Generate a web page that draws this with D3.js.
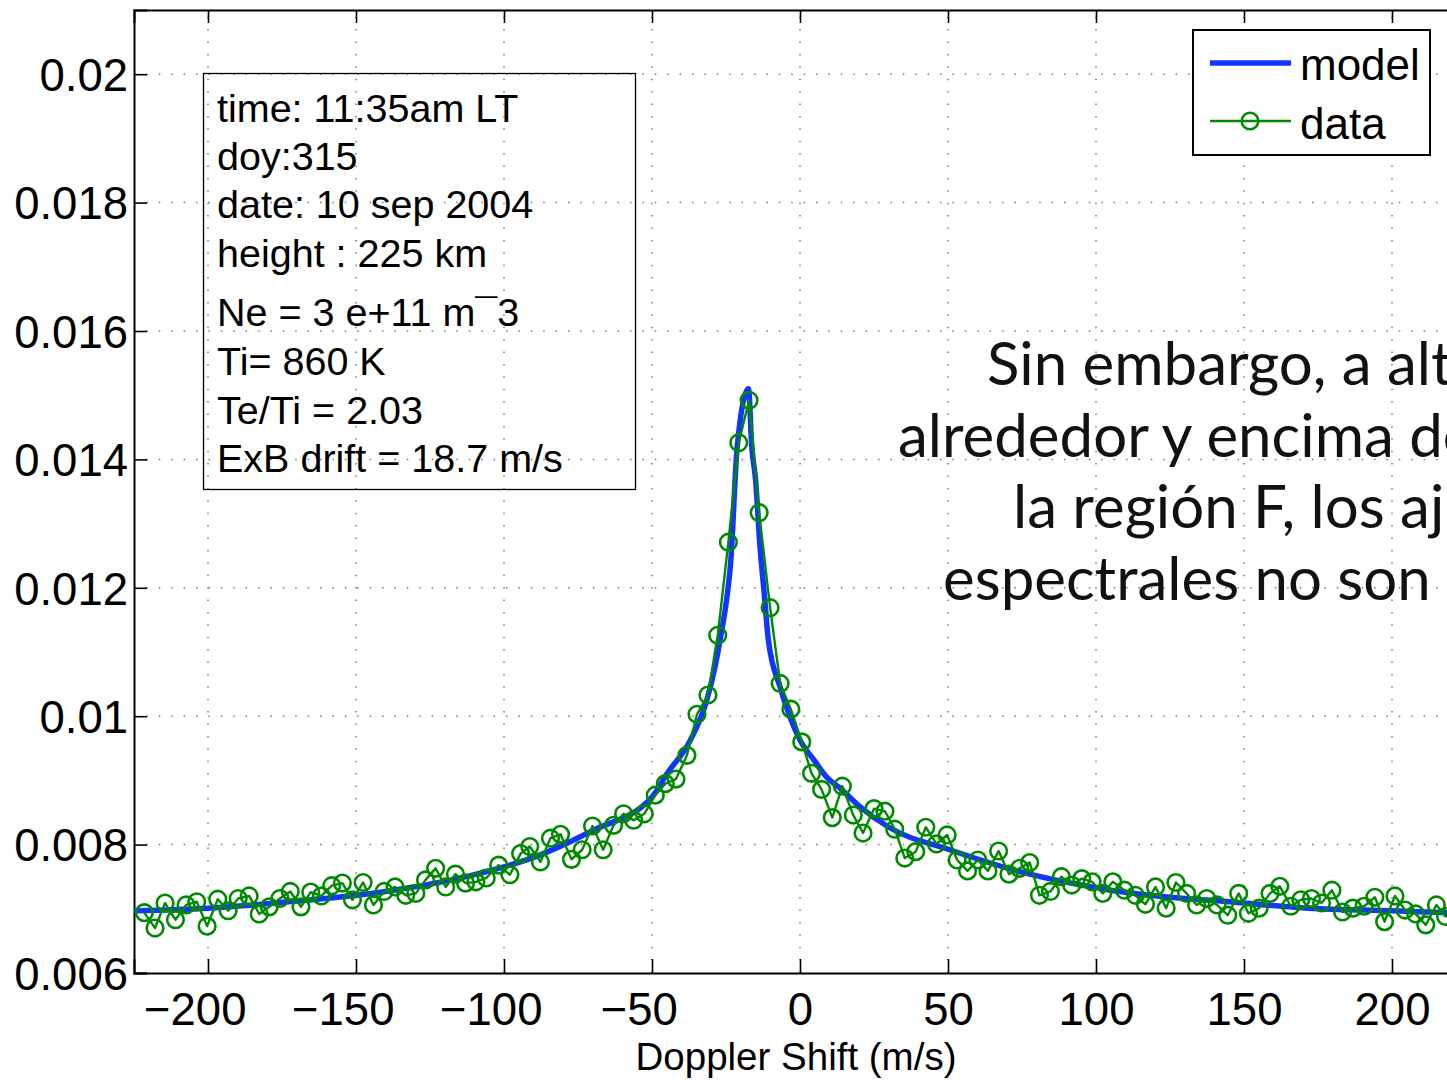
<!DOCTYPE html>
<html>
<head>
<meta charset="utf-8">
<script src="https://cdn.jsdelivr.net/npm/d3@7"></script>
<style>
  html, body { margin: 0; padding: 0; background: #fff; overflow: hidden; }
  svg { display: block; }
</style>
</head>
<body>
<svg id="chart" width="1447" height="1080"></svg>
<script>
// ---------- data ----------
const dataShift = [-221.5,-217.9,-214.5,-211.0,-207.4,-203.8,-200.3,-196.7,-193.2,-189.8,
  -186.1,-182.7,-179.3,-175.7,-172.2,-168.6,-165.3,-161.7,-158.2,-154.6,
  -151.2,-147.6,-144.1,-140.5,-136.8,-133.2,-129.8,-126.5,-123.1,-119.7,
  -116.4,-113.0,-109.5,-106.0,-101.8,-98.0,-94.4,-91.3,-87.7,-84.3,
  -80.9,-77.2,-73.6,-70.1,-66.5,-63.0,-59.6,-56.2,-52.6,-48.9,
  -45.5,-41.9,-38.2,-34.8,-31.1,-27.8,-24.2,-20.7,-17.2,-13.8,
  -10.1,-6.7,-3.1,0.6,3.9,7.3,10.9,14.3,18.0,21.3,
  25.0,28.7,32.0,35.4,39.1,42.5,46.1,49.7,53.1,56.6,
  60.1,63.5,67.1,70.6,74.2,77.6,80.9,84.6,88.3,91.8,
  95.2,98.7,102.3,105.7,109.6,113.3,116.7,120.1,123.7,127.0,
  130.6,134.0,137.4,140.9,144.5,148.2,151.5,155.1,158.8,162.1,
  165.8,169.2,172.8,176.2,179.7,183.3,186.8,190.6,194.2,197.5,
  201.0,204.4,208.0,211.4,215.0,218.1,221.6];
const dataValues = [0.00694,0.00670,0.00709,0.00683,0.00706,0.00711,0.00673,0.00715,0.00697,0.00716,
  0.00720,0.00692,0.00703,0.00716,0.00727,0.00703,0.00726,0.00720,0.00736,0.00740,
  0.00714,0.00741,0.00706,0.00727,0.00734,0.00721,0.00724,0.00745,0.00763,0.00734,
  0.00754,0.00740,0.00742,0.00748,0.00768,0.00753,0.00786,0.00797,0.00773,0.00810,
  0.00816,0.00777,0.00792,0.00829,0.00792,0.00830,0.00848,0.00838,0.00848,0.00877,
  0.00895,0.00902,0.00939,0.01003,0.01033,0.01126,0.01271,0.01426,0.01492,0.01317,
  0.01169,0.01051,0.01011,0.00960,0.00911,0.00886,0.00842,0.00891,0.00846,0.00818,
  0.00856,0.00852,0.00824,0.00779,0.00789,0.00827,0.00801,0.00815,0.00776,0.00759,
  0.00776,0.00759,0.00790,0.00754,0.00763,0.00772,0.00721,0.00727,0.00750,0.00737,
  0.00747,0.00742,0.00724,0.00742,0.00729,0.00721,0.00707,0.00734,0.00701,0.00741,
  0.00724,0.00706,0.00716,0.00706,0.00690,0.00724,0.00693,0.00701,0.00724,0.00735,
  0.00704,0.00714,0.00716,0.00709,0.00729,0.00695,0.00701,0.00704,0.00718,0.00680,
  0.00720,0.00698,0.00692,0.00675,0.00706,0.00688,0.00695];

const modelShift = [-225,-200,-170,-140,-111,-90,-70,-50,-45,-37,-31.5,-28.7,-27,-24.5,-23.5,-21.2,-17.4,
  -16.3,-15,-13.5,-12.1,-10.7,-6.7,0,5,9,13.5,20,30,50.6,75,105,150,172,200,225];
const modelValues = [0.00697,0.00701,0.00712,0.00727,0.00752,0.00780,0.00822,0.00874,0.00910,0.00963,0.01025,0.01077,0.01119,0.01192,0.01235,0.01420,0.01510,
  0.01420,0.01368,0.01263,0.01192,0.01119,0.01045,0.00963,0.00930,0.00905,0.00888,0.00860,0.00827,0.00792,0.00757,0.00729,0.00709,0.00701,0.00697,0.00693];

const xTicks = [-200,-150,-100,-50,0,50,100,150,200];
const yTicks = [0.006,0.008,0.010,0.012,0.014,0.016,0.018,0.020];
const yTickLabels = ["0.006","0.008","0.01","0.012","0.014","0.016","0.018","0.02"];
const xLabel = "Doppler Shift (m/s)";
const seriesNames = ["model","data"];
const infoLines = ["time: 11:35am LT","doy:315","date: 10 sep 2004","height : 225 km",
  "Ne = 3 e+11 m\u00AF3","Ti= 860 K","Te/Ti = 2.03","ExB drift = 18.7 m/s"];
const noteLines = ["Sin embargo, a alturas","alrededor y encima del pico de","la región F, los ajustes","espectrales no son buenos"];

// ---------- layout ----------
const L = 134, R = 1466, T = 10, B = 973;
const svg = d3.select("#chart");
const x = d3.scaleLinear().domain([-225,225]).range([L,R]);
const y = d3.scaleLinear().domain([0.006,0.021]).range([B,T]);
const axisFont = "'Liberation Sans', Arial, Helvetica, sans-serif";
const blue = "#1236ff", green = "#008a00";
const tickFontPx = 45.5;

svg.append("defs").append("clipPath").attr("id","plotclip")
  .append("rect").attr("x",L).attr("y",T).attr("width",R-L).attr("height",B-T);

// grid
const grid = svg.append("g").attr("stroke","#777").attr("stroke-width",1.5)
  .attr("stroke-dasharray","1.5,10.9");
grid.selectAll("line.v").data(xTicks).join("line").attr("class","v")
  .attr("x1",d=>x(d)).attr("x2",d=>x(d)).attr("y1",B).attr("y2",T);
grid.selectAll("line.h").data(yTicks.slice(1)).join("line").attr("class","h")
  .attr("y1",d=>y(d)).attr("y2",d=>y(d)).attr("x1",L).attr("x2",R);

// axes
const xAxisB = d3.axisBottom(x).tickValues(xTicks).tickSize(-14).tickPadding(22)
  .tickFormat(d => d < 0 ? "\u2212" + Math.abs(d) : String(d));
const gx = svg.append("g").attr("transform",`translate(0,${B})`).call(xAxisB);
const xAxisT = d3.axisTop(x).tickValues(xTicks).tickSize(-13).tickFormat("");
const gxt = svg.append("g").attr("transform",`translate(0,${T})`).call(xAxisT);
const yAxisL = d3.axisLeft(y).tickValues(yTicks).tickSize(-13).tickPadding(6)
  .tickFormat((d,i) => yTickLabels[i]);
const gy = svg.append("g").attr("transform",`translate(${L},0)`).call(yAxisL);
[gx,gxt,gy].forEach(g => {
  g.select(".domain").attr("stroke","#000").attr("stroke-width",2);
  g.selectAll(".tick line").attr("stroke","#000").attr("stroke-width",1.6);
  g.selectAll("text").attr("fill","#000").style("font-family",axisFont).style("font-size",tickFontPx+"px");
});
// digits centred on the tick, minus sign hanging to the left (as in the original)
gx.selectAll("text").attr("dy","0.71em").attr("y",20)
  .attr("x", d => d < 0 ? -0.584*tickFontPx/2 : 0);
gy.selectAll("text").attr("dy","0.36em").attr("x",-6);

svg.append("text").attr("x",(x(-225)+x(225))/2 - 4).attr("y",1070)
  .attr("text-anchor","middle").style("font-family",axisFont).style("font-size","38.5px")
  .attr("fill","#000").text(xLabel);

// series
const plot = svg.append("g").attr("clip-path","url(#plotclip)");
const modelPts = modelShift.map((s,i)=>[s,modelValues[i]]);
const dataPts = dataShift.map((s,i)=>[s,dataValues[i]]);
plot.append("path").datum(modelPts)
  .attr("d", d3.line().x(d=>x(d[0])).y(d=>y(d[1])).curve(d3.curveMonotoneX))
  .attr("fill","none").attr("stroke",blue).attr("stroke-width",5.5).attr("stroke-linejoin","round");
plot.append("path").datum(dataPts)
  .attr("d", d3.line().x(d=>x(d[0])).y(d=>y(d[1])))
  .attr("fill","none").attr("stroke",green).attr("stroke-width",2.4).attr("stroke-linejoin","round");
plot.selectAll("circle.pt").data(dataPts).join("circle").attr("class","pt")
  .attr("cx",d=>x(d[0])).attr("cy",d=>y(d[1])).attr("r",8.3)
  .attr("fill","none").attr("stroke",green).attr("stroke-width",2.6);

// info box
svg.append("rect").attr("x",203.5).attr("y",73.5).attr("width",432).attr("height",416)
  .attr("fill","none").attr("stroke","#000").attr("stroke-width",1.3);
const infoY = [122,170,218,267,326,375,424,472];
svg.append("g").selectAll("text").data(infoLines).join("text")
  .attr("x",217).attr("y",(d,i)=>infoY[i])
  .style("font-family",axisFont).style("font-size","39.5px").attr("fill","#000")
  .text(d=>d);

// legend
const lg = svg.append("g");
lg.append("rect").attr("x",1193).attr("y",30).attr("width",237).attr("height",125)
  .attr("fill","#fff").attr("stroke","#000").attr("stroke-width",2);
lg.append("line").attr("x1",1210).attr("x2",1291).attr("y1",63).attr("y2",63)
  .attr("stroke",blue).attr("stroke-width",5.5);
lg.append("line").attr("x1",1210).attr("x2",1291).attr("y1",121).attr("y2",121)
  .attr("stroke",green).attr("stroke-width",2.4);
lg.append("circle").attr("cx",1250).attr("cy",121).attr("r",8.3)
  .attr("fill","none").attr("stroke",green).attr("stroke-width",2.6);
lg.selectAll("text").data(seriesNames).join("text")
  .attr("x",1300).attr("y",(d,i)=>[80,139][i])
  .style("font-family",axisFont).style("font-size","44px").attr("fill","#000")
  .text(d=>d);

// overlaid note text (runs past the right edge of the slide, as in the original)
const noteX = [987,898,1013,943];
const noteY = [385,457,528,600];
svg.append("g").selectAll("text").data(noteLines).join("text")
  .attr("x",(d,i)=>noteX[i]).attr("y",(d,i)=>noteY[i])
  .style("font-family","Lato, 'Open Sans', sans-serif").style("font-size","60px")
  .attr("fill","#111").text(d=>d);
</script>
</body>
</html>
